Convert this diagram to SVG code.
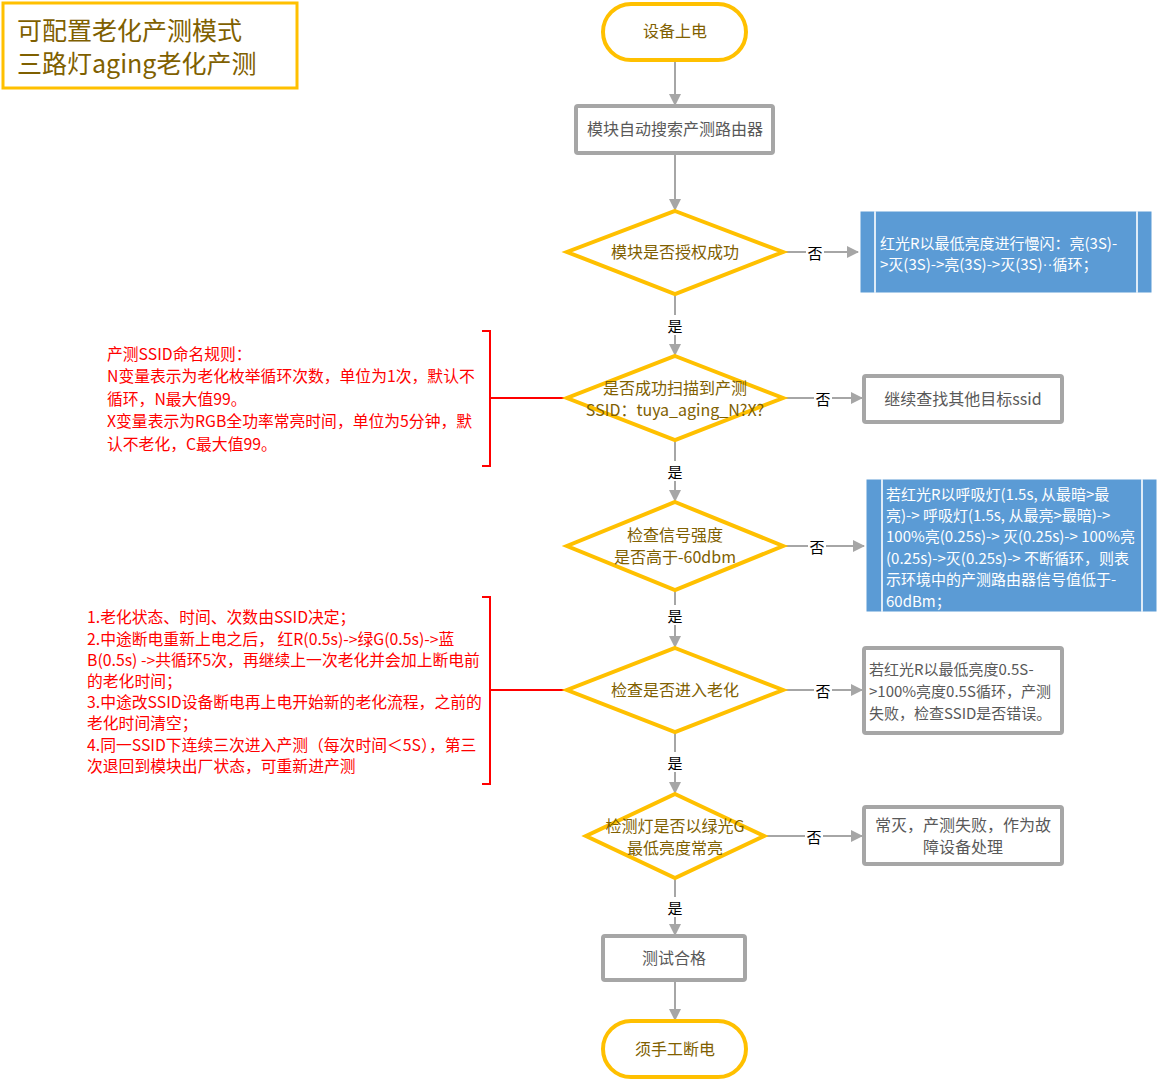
<svg xmlns="http://www.w3.org/2000/svg" width="1161" height="1081" viewBox="0 0 1161 1081">
<defs>
<marker id="ah" markerWidth="12" markerHeight="12" refX="11" refY="6" orient="auto" markerUnits="userSpaceOnUse">
<path d="M0,0 L12,6 L0,12 Z" fill="#A6A6A6"/>
</marker>
<style>
text{font-family:"Microsoft YaHei","Noto Sans CJK SC","Noto Sans",sans-serif;}
.term{fill:#fff;stroke:#FFC000;stroke-width:4;}
.dia{fill:#fff;stroke:#FFC000;stroke-width:4;}
.proc{fill:#fff;stroke:#A6A6A6;stroke-width:4;}
.blue{fill:#5B9BD5;stroke:#fff;stroke-width:1;}
.bl{stroke:#DEEBF7;stroke-width:2;}
.conn{stroke:#A6A6A6;stroke-width:2;fill:none;}
.red{stroke:#FF0000;stroke-width:2;fill:none;}
.tb{fill:#806000;font-size:16px;text-anchor:middle;dominant-baseline:central;}
.tg{fill:#595959;font-size:16px;text-anchor:middle;dominant-baseline:central;}
.tgl{fill:#595959;font-size:15px;dominant-baseline:central;}
.tw{fill:#fff;font-size:15px;dominant-baseline:central;}
.tr{fill:#FF0000;font-size:15.8px;dominant-baseline:central;}
.lab{fill:#000;font-size:15px;text-anchor:middle;dominant-baseline:central;}
.labbg{fill:#fff;}
</style>
</defs>
<rect width="1161" height="1081" fill="#fff"/>

<g id="title">
<rect x="3" y="3" width="294" height="85" fill="#fff" stroke="#FFC000" stroke-width="3"/>
<text x="17" y="29" fill="#7F6000" font-size="25" dominant-baseline="central">可配置老化产测模式</text>
<text x="17" y="62" fill="#7F6000" font-size="25" dominant-baseline="central">三路灯aging老化产测</text>
</g>

<g id="connectors">
<path class="conn" d="M675,60 V105" marker-end="url(#ah)"/>
<path class="conn" d="M675,153 V210" marker-end="url(#ah)"/>
<path class="conn" d="M783,252 H858" marker-end="url(#ah)"/>
<path class="conn" d="M675,294 V355" marker-end="url(#ah)"/>
<path class="conn" d="M783,398 H862" marker-end="url(#ah)"/>
<path class="conn" d="M675,440 V501" marker-end="url(#ah)"/>
<path class="conn" d="M783,546 H864" marker-end="url(#ah)"/>
<path class="conn" d="M675,590 V647" marker-end="url(#ah)"/>
<path class="conn" d="M783,690 H862" marker-end="url(#ah)"/>
<path class="conn" d="M675,732 V793" marker-end="url(#ah)"/>
<path class="conn" d="M764,836 H862" marker-end="url(#ah)"/>
<path class="conn" d="M675,878 V935" marker-end="url(#ah)"/>
<path class="conn" d="M675,980 V1020" marker-end="url(#ah)"/>
<path class="red" d="M567,398 H490"/>
<path class="red" d="M482,331 H490 V466 H482"/>
<path class="red" d="M567,690 H490"/>
<path class="red" d="M482,597 H490 V784 H482"/>
<rect class="labbg" x="806" y="242" width="18" height="20"/>
<text class="lab" x="815" y="252">否</text>
<rect class="labbg" x="814" y="388" width="18" height="20"/>
<text class="lab" x="823" y="398">否</text>
<rect class="labbg" x="808" y="536" width="18" height="20"/>
<text class="lab" x="817" y="546">否</text>
<rect class="labbg" x="814" y="680" width="18" height="20"/>
<text class="lab" x="823" y="690">否</text>
<rect class="labbg" x="805" y="826" width="18" height="20"/>
<text class="lab" x="814" y="836">否</text>
<rect class="labbg" x="666" y="315" width="18" height="20"/>
<text class="lab" x="675" y="325">是</text>
<rect class="labbg" x="666" y="461" width="18" height="20"/>
<text class="lab" x="675" y="471">是</text>
<rect class="labbg" x="666" y="605" width="18" height="20"/>
<text class="lab" x="675" y="615">是</text>
<rect class="labbg" x="666" y="752" width="18" height="20"/>
<text class="lab" x="675" y="762">是</text>
<rect class="labbg" x="666" y="897" width="18" height="20"/>
<text class="lab" x="675" y="907">是</text>
</g>

<g id="start">
<rect class="term" x="603" y="4" width="143" height="56" rx="28"/>
<text class="tb" x="675" y="30">设备上电</text>
</g>

<g id="search">
<rect class="proc" x="576" y="106" width="197" height="47" rx="2"/>
<text class="tg" x="675" y="128">模块自动搜索产测路由器</text>
</g>

<g id="auth">
<polygon class="dia" points="675,211 783,252 675,294 567,252"/>
<text class="tb" x="675" y="251">模块是否授权成功</text>
</g>

<g id="authFail">
<rect class="blue" x="860" y="211" width="292" height="82"/>
<line class="bl" x1="875" y1="211" x2="875" y2="293"/>
<line class="bl" x1="1137" y1="211" x2="1137" y2="293"/>
<text class="tw" x="880" y="242">红光R以最低亮度进行慢闪：亮(3S)-</text>
<text class="tw" x="880" y="263">&gt;灭(3S)-&gt;亮(3S)-&gt;灭(3S)<tspan font-family="Liberation Sans">··</tspan>循环；</text>
</g>

<g id="scan">
<polygon class="dia" points="675,356 783,398 675,440 567,398"/>
<text class="tb" x="675" y="387">是否成功扫描到产测</text>
<text class="tb" x="675" y="409">SSID：tuya_aging_N?X?</text>
</g>

<g id="scanFail">
<rect class="proc" x="864" y="376" width="198" height="46" rx="2"/>
<text class="tg" x="963" y="398" font-size="15">继续查找其他目标ssid</text>
</g>

<g id="ssidNote">
<text class="tr" x="107" y="353">产测SSID命名规则：</text>
<text class="tr" x="107" y="375">N变量表示为老化枚举循环次数，单位为1次，默认不</text>
<text class="tr" x="107" y="398">循环，N最大值99。</text>
<text class="tr" x="107" y="420">X变量表示为RGB全功率常亮时间，单位为5分钟，默</text>
<text class="tr" x="107" y="443">认不老化，C最大值99。</text>
</g>

<g id="signal">
<polygon class="dia" points="675,502 783,546 675,590 567,546"/>
<text class="tb" x="675" y="534">检查信号强度</text>
<text class="tb" x="675" y="556">是否高于-60dbm</text>
</g>

<g id="signalFail">
<rect class="blue" x="866" y="479" width="291" height="133"/>
<line class="bl" x1="882" y1="479" x2="882" y2="612"/>
<line class="bl" x1="1142" y1="479" x2="1142" y2="612"/>
<text class="tw" x="886" y="493">若红光R以呼吸灯(1.5s, 从最暗&gt;最</text>
<text class="tw" x="886" y="514">亮)-&gt; 呼吸灯(1.5s,  从最亮&gt;最暗)-&gt;</text>
<text class="tw" x="886" y="535">100%亮(0.25s)-&gt; 灭(0.25s)-&gt;  100%亮</text>
<text class="tw" x="886" y="557">(0.25s)-&gt;灭(0.25s)-&gt; 不断循环，则表</text>
<text class="tw" x="886" y="578">示环境中的产测路由器信号值低于-</text>
<text class="tw" x="886" y="600">60dBm；</text>
</g>

<g id="aging">
<polygon class="dia" points="675,648 783,690 675,732 567,690"/>
<text class="tb" x="675" y="689">检查是否进入老化</text>
</g>

<g id="agingFail">
<rect class="proc" x="864" y="648" width="198" height="85" rx="2"/>
<text class="tgl" x="869" y="668">若红光R以最低亮度0.5S-</text>
<text class="tgl" x="869" y="690">&gt;100%亮度0.5S循环，产测</text>
<text class="tgl" x="869" y="712">失败，检查SSID是否错误。</text>
</g>

<g id="agingNote">
<text class="tr" x="87" y="616">1.老化状态、时间、次数由SSID决定；</text>
<text class="tr" x="87" y="638">2.中途断电重新上电之后，  红R(0.5s)-&gt;绿G(0.5s)-&gt;蓝</text>
<text class="tr" x="87" y="659">B(0.5s) -&gt;共循环5次，再继续上一次老化并会加上断电前</text>
<text class="tr" x="87" y="680">的老化时间；</text>
<text class="tr" x="87" y="701">3.中途改SSID设备断电再上电开始新的老化流程，之前的</text>
<text class="tr" x="87" y="722">老化时间清空；</text>
<text class="tr" x="87" y="744">4.同一SSID下连续三次进入产测（每次时间＜5S），第三</text>
<text class="tr" x="87" y="765">次退回到模块出厂状态，可重新进产测</text>
</g>

<g id="green">
<polygon class="dia" points="675,794 764,836 675,878 586,836"/>
<text class="tb" x="675" y="825">检测灯是否以绿光G</text>
<text class="tb" x="675" y="847">最低亮度常亮</text>
</g>

<g id="greenFail">
<rect class="proc" x="864" y="807" width="198" height="57" rx="2"/>
<text class="tg" x="963" y="824" font-size="15">常灭，产测失败，作为故</text>
<text class="tg" x="963" y="846" font-size="15">障设备处理</text>
</g>

<g id="pass">
<rect class="proc" x="603" y="936" width="142" height="44" rx="2"/>
<text class="tg" x="674" y="957">测试合格</text>
</g>

<g id="end">
<rect class="term" x="603" y="1021" width="143" height="56" rx="28"/>
<text class="tb" x="675" y="1048">须手工断电</text>
</g>
</svg>
